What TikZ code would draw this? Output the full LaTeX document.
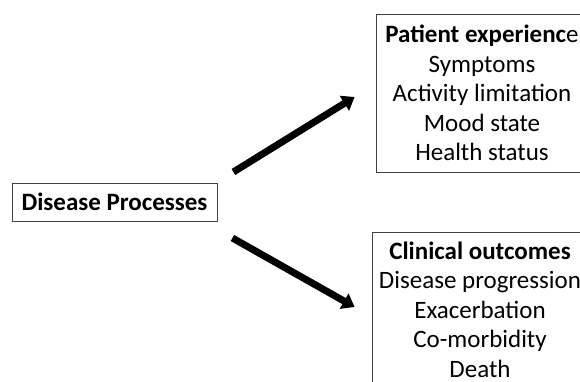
\documentclass[tikz,border=0pt]{standalone}
\usepackage{fontspec}
\setmainfont{Carlito}
\usetikzlibrary{arrows.meta, calc, positioning}

\begin{document}
\begin{tikzpicture}[x=1pt, y=-1pt, >={Triangle[length=12pt, width=17pt]},
	box/.style={draw=black!75, line width=0.8pt, align=center, inner sep=0pt,
		font=\fontsize{25}{29.5}\selectfont},
	bigarrow/.style={->, line width=7pt, line cap=butt}]
	
	% frame of the page
	\useasboundingbox (0,0) rectangle (580,381);
	\clip (0,0) rectangle (580,381);
	
	%========================
	% Left: cause
	%========================
	\node[box, minimum width=205pt, minimum height=38pt] (dp) at (114.5,202)
	{\textbf{Disease Processes}};
	
	%========================
	% Right: the two kinds of outcome
	%========================
	\node[box, minimum width=212pt, minimum height=158pt] (pe) at (482,93)
	{\textbf{Patient experienc}e\\Symptoms\\Activity limitation\\Mood state\\Health status};
	\node[box, minimum width=216pt, minimum height=155pt] (co) at (480,309.5)
	{\textbf{Clinical outcomes}\\Disease progression\\Exacerbation\\Co-morbidity\\Death};
	
	% arrow ends (they stop short of the boxes)
	\coordinate (up-tail) at ($(dp.east)+(16,-30)$);
	\coordinate (up-tip) at ($(pe.west)+(-21,4)$);
	\coordinate (dn-tail) at ($(dp.east)+(15,36)$);
	\coordinate (dn-tip) at ($(co.west)+(-17,-2.5)$);
	
	\draw[bigarrow] (up-tail) -- (up-tip);
	\draw[bigarrow] (dn-tail) -- (dn-tip);
	
\end{tikzpicture}
\end{document}
